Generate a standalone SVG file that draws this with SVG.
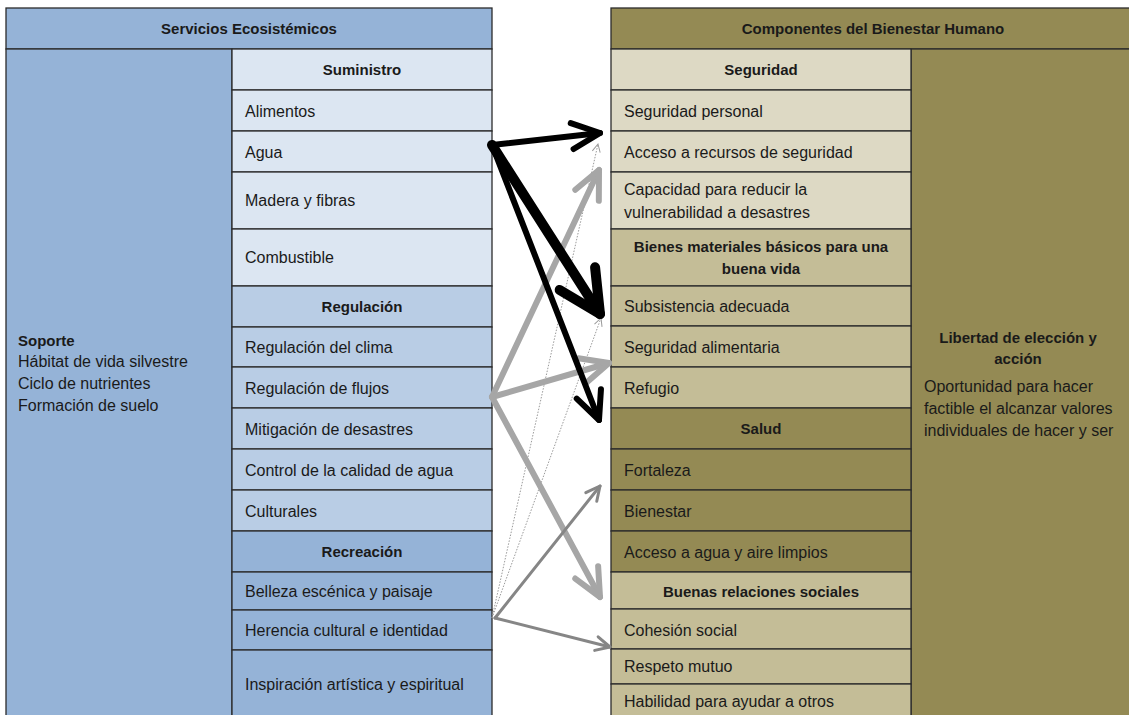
<svg xmlns="http://www.w3.org/2000/svg" width="1129" height="715" viewBox="0 0 1129 715">
<style>
text{font-family:"Liberation Sans",Arial,sans-serif;fill:#1a1a1a}
.t{font-size:16px}
.h{font-size:15px;font-weight:bold;text-anchor:middle}
.c{stroke:#2b2b2b;stroke-width:1.3}
.s1{fill:#dce6f2}.s2{fill:#b9cde5}.s3{fill:#95b3d7}
.r1{fill:#ddd9c4}.r2{fill:#c4bd97}.r3{fill:#948a54}
.ab{stroke:#000;fill:none;stroke-linecap:round;stroke-linejoin:round}
.ag{stroke:#a6a6a6;fill:none;stroke-linecap:round;stroke-linejoin:round}
.am{stroke:#868686;fill:none;stroke-linecap:round;stroke-linejoin:round}
.ad{stroke:#9a9a9a;fill:none;stroke-dasharray:1.5 1.5}
</style>
<defs>
<marker id="mb1" markerUnits="userSpaceOnUse" orient="auto" overflow="visible" markerWidth="1" markerHeight="1">
<path d="M-28,-13 L0,0 L-28,13" fill="none" stroke="#000" stroke-width="6" stroke-linecap="round" stroke-linejoin="round"/>
</marker>
<marker id="mb2" markerUnits="userSpaceOnUse" orient="auto" overflow="visible" markerWidth="1" markerHeight="1">
<path d="M-42,-21 L0,0 L-42,21" fill="none" stroke="#000" stroke-width="10" stroke-linecap="round" stroke-linejoin="round"/>
</marker>
<marker id="mg" markerUnits="userSpaceOnUse" orient="auto" overflow="visible" markerWidth="1" markerHeight="1">
<path d="M-28,-13 L0,0 L-28,13" fill="none" stroke="#a6a6a6" stroke-width="6" stroke-linecap="round" stroke-linejoin="round"/>
</marker>
<marker id="mm" markerUnits="userSpaceOnUse" orient="auto" overflow="visible" markerWidth="1" markerHeight="1">
<path d="M-14,-7 L0,0 L-14,7" fill="none" stroke="#868686" stroke-width="3" stroke-linecap="round" stroke-linejoin="round"/>
</marker>
<marker id="md" markerUnits="userSpaceOnUse" orient="auto" overflow="visible" markerWidth="1" markerHeight="1">
<path d="M-8,-4 L0,0 L-8,4" fill="none" stroke="#9a9a9a" stroke-width="1"/>
</marker>
</defs>
<rect width="1129" height="715" fill="#fff"/>

<!-- Left table -->
<g id="hdr-servicios"><rect class="c s3" x="6" y="8" width="486" height="41"/><text class="h" x="249" y="34">Servicios Ecosistémicos</text></g>
<g id="soporte"><rect class="c s3" x="6" y="49" width="226" height="670"/>
<text x="18" y="346" style="font-size:15px;font-weight:bold">Soporte</text>
<text class="t" x="18" y="367">Hábitat de vida silvestre</text>
<text class="t" x="18" y="389">Ciclo de nutrientes</text>
<text class="t" x="18" y="411">Formación de suelo</text></g>

<g id="suministro"><rect class="c s1" x="232" y="49" width="260" height="41"/><text class="h" x="362" y="75">Suministro</text></g>
<g id="alimentos"><rect class="c s1" x="232" y="90" width="260" height="41"/><text class="t" x="245" y="117">Alimentos</text></g>
<g id="agua"><rect class="c s1" x="232" y="131" width="260" height="41"/><text class="t" x="245" y="158">Agua</text></g>
<g id="madera"><rect class="c s1" x="232" y="172" width="260" height="57"/><text class="t" x="245" y="206">Madera y fibras</text></g>
<g id="combustible"><rect class="c s1" x="232" y="229" width="260" height="57"/><text class="t" x="245" y="263">Combustible</text></g>

<g id="regulacion"><rect class="c s2" x="232" y="286" width="260" height="41"/><text class="h" x="362" y="312">Regulación</text></g>
<g id="reg-clima"><rect class="c s2" x="232" y="327" width="260" height="40"/><text class="t" x="245" y="353">Regulación del clima</text></g>
<g id="reg-flujos"><rect class="c s2" x="232" y="367" width="260" height="41"/><text class="t" x="245" y="394">Regulación de flujos</text></g>
<g id="mitigacion"><rect class="c s2" x="232" y="408" width="260" height="41"/><text class="t" x="245" y="435">Mitigación de desastres</text></g>
<g id="control-agua"><rect class="c s2" x="232" y="449" width="260" height="41"/><text class="t" x="245" y="476">Control de la calidad de agua</text></g>
<g id="culturales"><rect class="c s2" x="232" y="490" width="260" height="41"/><text class="t" x="245" y="517">Culturales</text></g>

<g id="recreacion"><rect class="c s3" x="232" y="531" width="260" height="41"/><text class="h" x="362" y="557">Recreación</text></g>
<g id="belleza"><rect class="c s3" x="232" y="572" width="260" height="38"/><text class="t" x="245" y="597">Belleza escénica y paisaje</text></g>
<g id="herencia"><rect class="c s3" x="232" y="610" width="260" height="40"/><text class="t" x="245" y="636">Herencia cultural e identidad</text></g>
<g id="inspiracion"><rect class="c s3" x="232" y="650" width="260" height="69"/><text class="t" x="245" y="690">Inspiración artística y espiritual</text></g>

<!-- Right table -->
<g id="hdr-bienestar"><rect class="c r3" x="611" y="8" width="520" height="41"/><text class="h" x="873" y="34">Componentes del Bienestar Humano</text></g>
<g id="libertad"><rect class="c r3" x="911" y="49" width="220" height="670"/>
<text class="h" x="1018" y="343">Libertad de elección y</text>
<text class="h" x="1018" y="364">acción</text>
<text class="t" x="924" y="392">Oportunidad para hacer</text>
<text class="t" x="924" y="414">factible el alcanzar valores</text>
<text class="t" x="924" y="436">individuales de hacer y ser</text></g>

<g id="seguridad"><rect class="c r1" x="611" y="49" width="300" height="41"/><text class="h" x="761" y="75">Seguridad</text></g>
<g id="seg-personal"><rect class="c r1" x="611" y="90" width="300" height="41"/><text class="t" x="624" y="117">Seguridad personal</text></g>
<g id="acceso-recursos"><rect class="c r1" x="611" y="131" width="300" height="41"/><text class="t" x="624" y="158">Acceso a recursos de seguridad</text></g>
<g id="capacidad"><rect class="c r1" x="611" y="172" width="300" height="57"/><text class="t" x="624" y="195">Capacidad para reducir la</text><text class="t" x="624" y="218">vulnerabilidad a desastres</text></g>

<g id="bienes"><rect class="c r2" x="611" y="229" width="300" height="57"/><text class="h" x="761" y="252">Bienes materiales básicos para una</text><text class="h" x="761" y="274">buena vida</text></g>
<g id="subsistencia"><rect class="c r2" x="611" y="286" width="300" height="40"/><text class="t" x="624" y="312">Subsistencia adecuada</text></g>
<g id="seg-alimentaria"><rect class="c r2" x="611" y="326" width="300" height="41"/><text class="t" x="624" y="353">Seguridad alimentaria</text></g>
<g id="refugio"><rect class="c r2" x="611" y="367" width="300" height="41"/><text class="t" x="624" y="394">Refugio</text></g>

<g id="salud"><rect class="c r3" x="611" y="408" width="300" height="41"/><text class="h" x="761" y="434">Salud</text></g>
<g id="fortaleza"><rect class="c r3" x="611" y="449" width="300" height="41"/><text class="t" x="624" y="476">Fortaleza</text></g>
<g id="bienestar"><rect class="c r3" x="611" y="490" width="300" height="41"/><text class="t" x="624" y="517">Bienestar</text></g>
<g id="acceso-agua"><rect class="c r3" x="611" y="531" width="300" height="41"/><text class="t" x="624" y="558">Acceso a agua y aire limpios</text></g>

<g id="relaciones"><rect class="c r2" x="611" y="572" width="300" height="37"/><text class="h" x="761" y="597">Buenas relaciones sociales</text></g>
<g id="cohesion"><rect class="c r2" x="611" y="609" width="300" height="40"/><text class="t" x="624" y="636">Cohesión social</text></g>
<g id="respeto"><rect class="c r2" x="611" y="649" width="300" height="35"/><text class="t" x="624" y="672">Respeto mutuo</text></g>
<g id="habilidad"><rect class="c r2" x="611" y="684" width="300" height="35"/><text class="t" x="624" y="707">Habilidad para ayudar a otros</text></g>

<!-- Connectors -->
<g id="connectors">
<path class="ad" d="M492,618 L598,144" marker-end="url(#md)"/>
<path class="ad" d="M492,618 L601,318" marker-end="url(#md)"/>
<path class="ag" stroke-width="6" d="M492,397 L599,170" marker-end="url(#mg)"/>
<path class="ag" stroke-width="6" d="M492,397 L609,363" marker-end="url(#mg)"/>
<path class="ag" stroke-width="6" d="M492,397 L600,597" marker-end="url(#mg)"/>
<path class="am" stroke-width="3" d="M495,618 L600,486" marker-end="url(#mm)"/>
<path class="am" stroke-width="3" d="M495,618 L610,647" marker-end="url(#mm)"/>
<path class="ab" stroke-width="6" d="M492,145 L600,133" marker-end="url(#mb1)"/>
<path class="ab" stroke-width="10" d="M492,145 L600,314" marker-end="url(#mb2)"/>
<path class="ab" stroke-width="6" d="M492,145 L599,420" marker-end="url(#mb1)"/>
</g>
</svg>
